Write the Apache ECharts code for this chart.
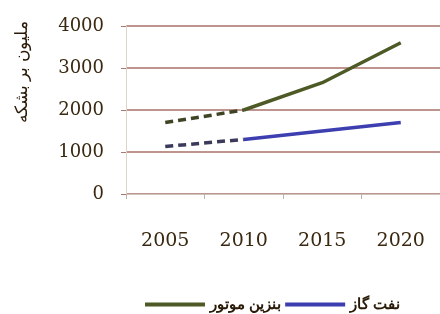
<!DOCTYPE html>
<html>
<head>
<meta charset="utf-8">
<script src="https://cdn.jsdelivr.net/npm/echarts@6/dist/echarts.min.js"></script>
<style>
html,body{margin:0;padding:0;background:#fff;}
#main{width:440px;height:314px;}
</style>
</head>
<body>
<div id="main"></div>
<script>
var years = ['2005', '2010', '2015', '2020'];
var yTicks = [0, 1000, 2000, 3000, 4000];
var gasolineName = 'بنزین موتور';
var dieselName = 'نفت گاز';
var gasolineDash = [1700, 2000, null, null];
var gasolineSolid = [null, 2000, 2650, 3600];
var dieselDash = [1130, 1300, null, null];
var dieselSolid = [null, 1300, 1500, 1700];
var yTitle = 'ملیون بر بشکه';

var green = '#4d5a26';
var blue = '#3d3fb0';
var textCol = '#3a2810';

var chart = echarts.init(document.getElementById('main'));
var opt = {
  backgroundColor: '#ffffff',
  animation: false,
  grid: { left: 126, top: 26, width: 320, height: 168 },
  legend: {
    left: 140, top: 292,
    itemWidth: 60, itemHeight: 4, itemGap: 4,
    data: [
      { name: gasolineName, icon: 'rect', itemStyle: { color: green } },
      { name: dieselName, icon: 'rect', itemStyle: { color: blue } }
    ],
    textStyle: { fontSize: 15, fontWeight: 'bold', color: '#2a1a08', padding: [8, 0, 0, 0] }
  },
  graphic: [{
    type: 'text', x: 22, y: 72, rotation: Math.PI / 2,
    style: { text: yTitle, fontSize: 17, fill: '#2a1a08',
      align: 'center', verticalAlign: 'middle' }
  }],
  xAxis: {
    type: 'category', data: years, boundaryGap: true,
    axisLine: { lineStyle: { color: '#cfc4bc', width: 1 } },
    axisTick: { show: true, length: 5, lineStyle: { color: '#bdb2aa' } },
    axisLabel: { margin: 38, fontFamily: 'DejaVu Serif', fontSize: 19, color: textCol }
  },
  yAxis: {
    type: 'value', min: yTicks[0], max: yTicks[yTicks.length - 1], interval: 1000,
    axisLine: { show: true, lineStyle: { color: '#ddd6cc' } },
    axisTick: { show: true, length: 5, lineStyle: { color: '#a87a70' } },
    axisLabel: { margin: 22, fontFamily: 'DejaVu Serif', fontSize: 18, color: textCol,
      formatter: function (v) { return String(v); } },
    splitLine: { lineStyle: { color: '#a8706a', width: 1.5 } }
  },
  series: [
    { name: gasolineName, type: 'line', data: gasolineSolid, showSymbol: false,
      lineStyle: { color: green, width: 3.5 }, itemStyle: { color: green } },
    { name: 'g-dash', type: 'line', data: gasolineDash, showSymbol: false,
      lineStyle: { color: '#3e4424', width: 3.5, type: [8, 5] } },
    { name: dieselName, type: 'line', data: dieselSolid, showSymbol: false,
      lineStyle: { color: blue, width: 3.5 }, itemStyle: { color: blue } },
    { name: 'd-dash', type: 'line', data: dieselDash, showSymbol: false,
      lineStyle: { color: '#3a3a5a', width: 3.5, type: [8, 5] } }
  ]
};
chart.setOption(opt);
</script>
</body>
</html>
